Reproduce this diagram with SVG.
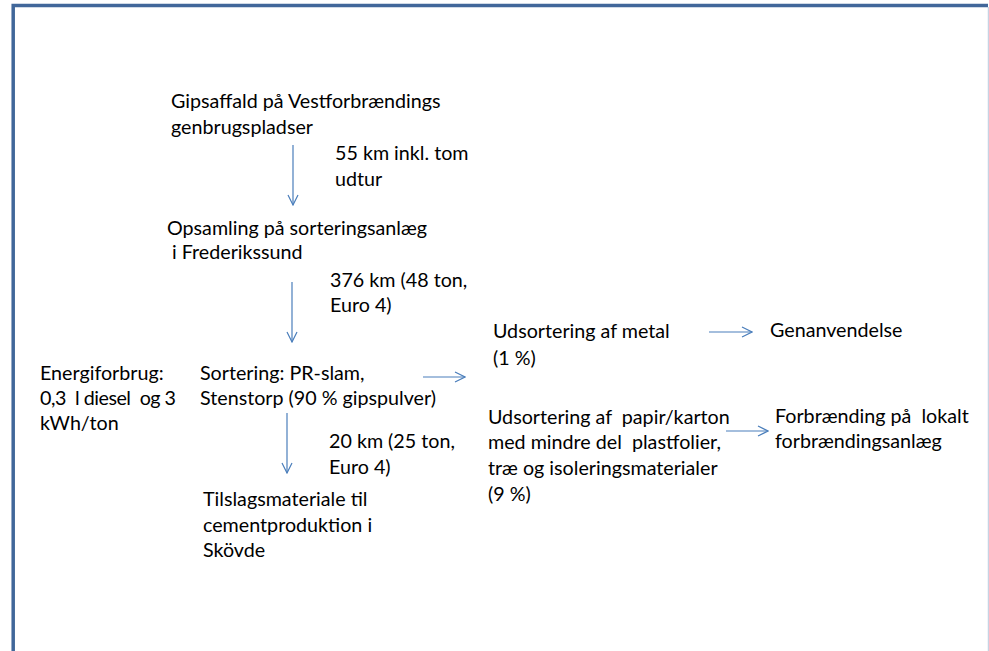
<svg xmlns="http://www.w3.org/2000/svg" width="989" height="651" viewBox="0 0 989 651">
<defs>
<style>
text{font-family:Lato,"Liberation Sans",sans-serif;font-size:19.7px;fill:#000;white-space:pre}
.c{stroke:#4a7ebb;stroke-width:1.2;fill:none}
</style>
<marker id="ah" viewBox="0 0 12 12" refX="11" refY="6" markerWidth="12" markerHeight="12" markerUnits="userSpaceOnUse" orient="auto">
<path d="M1,1 L11,6 L1,11" fill="none" stroke="#4a7ebb" stroke-width="1.2"/>
</marker>
</defs>
<rect width="989" height="651" fill="#fff"/>
<g id="frame">
<path d="M13.2,651 V5.5 H988" fill="none" stroke="#41679a" stroke-width="3.5"/>
<line x1="988.3" y1="7" x2="988.3" y2="651" stroke="#b9c9dd" stroke-width="1"/>
</g>
<g id="connectors">
<line class="c" x1="293" y1="145" x2="293" y2="205" marker-end="url(#ah)"/>
<line class="c" x1="292" y1="282" x2="292" y2="342" marker-end="url(#ah)"/>
<line class="c" x1="287" y1="413" x2="287" y2="473" marker-end="url(#ah)"/>
<line class="c" x1="423" y1="377" x2="465" y2="377" marker-end="url(#ah)"/>
<line class="c" x1="709" y1="332" x2="752" y2="332" marker-end="url(#ah)"/>
<line class="c" x1="726" y1="431" x2="768" y2="431" marker-end="url(#ah)"/>
</g>
<g id="n-gipsaffald"><text x="171" y="108">Gipsaffald på Vestforbrændings</text><text x="171" y="134">genbrugspladser</text></g>
<g id="l-55km"><text x="335" y="160">55 km inkl. tom</text><text x="335" y="186">udtur</text></g>
<g id="n-opsamling"><text x="167" y="235">Opsamling på sorteringsanlæg</text><text x="167" y="259"> i Frederikssund</text></g>
<g id="l-376km"><text x="330" y="287">376 km (48 ton,</text><text x="330" y="312">Euro 4)</text></g>
<g id="n-energi"><text x="40" y="380">Energiforbrug:</text><text x="40" y="405" textLength="136" lengthAdjust="spacing">0,3  l diesel  og 3</text><text x="40" y="430">kWh/ton</text></g>
<g id="n-sortering"><text x="200" y="380">Sortering: PR-slam,</text><text x="200" y="405">Stenstorp (90 % gipspulver)</text></g>
<g id="l-20km"><text x="329" y="448">20 km (25 ton,</text><text x="329" y="474">Euro 4)</text></g>
<g id="n-tilslag"><text x="203" y="506">Tilslagsmateriale til</text><text x="203" y="532">cementproduktion i</text><text x="203" y="557">Skövde</text></g>
<g id="n-metal"><text x="493" y="338">Udsortering af metal</text><text x="493" y="365">(1 %)</text></g>
<g id="n-genanv"><text x="770" y="337">Genanvendelse</text></g>
<g id="n-papir"><text x="488" y="424">Udsortering af  papir/karton</text><text x="488" y="449">med mindre del  plastfolier,</text><text x="488" y="475">træ og isoleringsmaterialer</text><text x="488" y="501">(9 %)</text></g>
<g id="n-forbr"><text x="775" y="423">Forbrænding på  lokalt</text><text x="775" y="448">forbrændingsanlæg</text></g>
</svg>
